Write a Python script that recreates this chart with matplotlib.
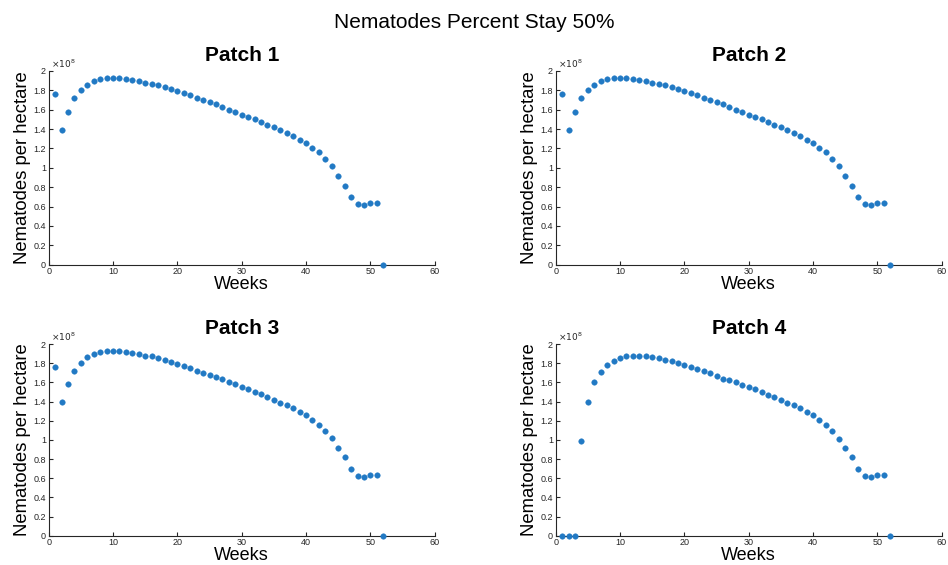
import matplotlib
matplotlib.use("Agg")
import matplotlib.pyplot as plt
from matplotlib.ticker import FuncFormatter, MultipleLocator
import numpy as np

plt.rcParams['font.family'] = ['Liberation Sans', 'DejaVu Sans']

weeks = list(range(1, 53))

patch1 = [1.76, 1.39, 1.58, 1.72, 1.80, 1.86, 1.90, 1.92, 1.93, 1.93,
          1.93, 1.92, 1.91, 1.90, 1.88, 1.87, 1.855, 1.835, 1.81, 1.79,
          1.77, 1.75, 1.72, 1.70, 1.676, 1.655, 1.63, 1.60, 1.578, 1.55,
          1.53, 1.50, 1.475, 1.445, 1.417, 1.387, 1.36, 1.33, 1.292, 1.255,
          1.207, 1.16, 1.093, 1.017, 0.92, 0.817, 0.697, 0.628, 0.617, 0.638,
          0.638, 0.0]
patch2 = list(patch1)
patch3 = list(patch1)
patch4 = [0.0, 0.0, 0.0, 0.986, 1.40, 1.60, 1.71, 1.78, 1.82, 1.85,
          1.87, 1.87, 1.87, 1.87, 1.86, 1.85, 1.83, 1.82, 1.80, 1.78,
          1.765, 1.74, 1.72, 1.70, 1.67, 1.64, 1.62, 1.60, 1.576, 1.55,
          1.53, 1.50, 1.47, 1.445, 1.414, 1.386, 1.36, 1.33, 1.29, 1.255,
          1.203, 1.159, 1.093, 1.014, 0.92, 0.817, 0.693, 0.628, 0.617, 0.638,
          0.638, 0.0]
scale = 1e8
series = [patch1, patch2, patch3, patch4]
titles = ["Patch 1", "Patch 2", "Patch 3", "Patch 4"]
suptitle = "Nematodes Percent Stay 50%"
xlabel = "Weeks"
ylabel = "Nematodes per hectare"

W, H = 948, 565
fig = plt.figure(figsize=(W / 100, H / 100), dpi=100)

lefts = [48.7, 555.7]
tops = [71.0, 344.0]
bottoms = [264.7, 535.7]
aw = 386.0

gray = '#262626'
dot = '#2179c4'

for i, (vals, ttl) in enumerate(zip(series, titles)):
    r, c = divmod(i, 2)
    l = lefts[c] / W
    b = 1 - bottoms[r] / H
    h = (bottoms[r] - tops[r]) / H
    ax = fig.add_axes([l, b, aw / W, h])
    y = np.array(vals) * scale
    ax.scatter(weeks, y, s=16, color=dot, edgecolors=dot, linewidths=0.3,
               zorder=3, clip_on=False)
    ax.set_xlim(0, 60)
    ax.set_ylim(0, 2e8)
    ax.xaxis.set_major_locator(MultipleLocator(10))
    ax.yaxis.set_major_locator(MultipleLocator(0.2e8))
    ax.yaxis.set_major_formatter(FuncFormatter(lambda v, p: '%g' % round(v / scale, 1)))
    for s in ['top', 'right']:
        ax.spines[s].set_visible(False)
    for s in ['left', 'bottom']:
        ax.spines[s].set_color(gray)
        ax.spines[s].set_linewidth(0.8)
    ax.tick_params(direction='in', length=3, width=0.8, colors=gray,
                   labelsize=6.5, pad=2)
    ax.set_title(ttl, fontsize=15, fontweight='bold', pad=7)
    ax.set_xlabel(xlabel, fontsize=13, labelpad=0)
    ax.set_ylabel(ylabel, fontsize=13.3, labelpad=2)
    ax.text(0.005, 1.005, r'$\times10^{8}$', transform=ax.transAxes,
            fontsize=6.5, color=gray, ha='left', va='bottom')

fig.text(0.5, 1 - 22 / H, suptitle, ha='center', va='center', fontsize=15)

fig.savefig('out.png', dpi=100)
